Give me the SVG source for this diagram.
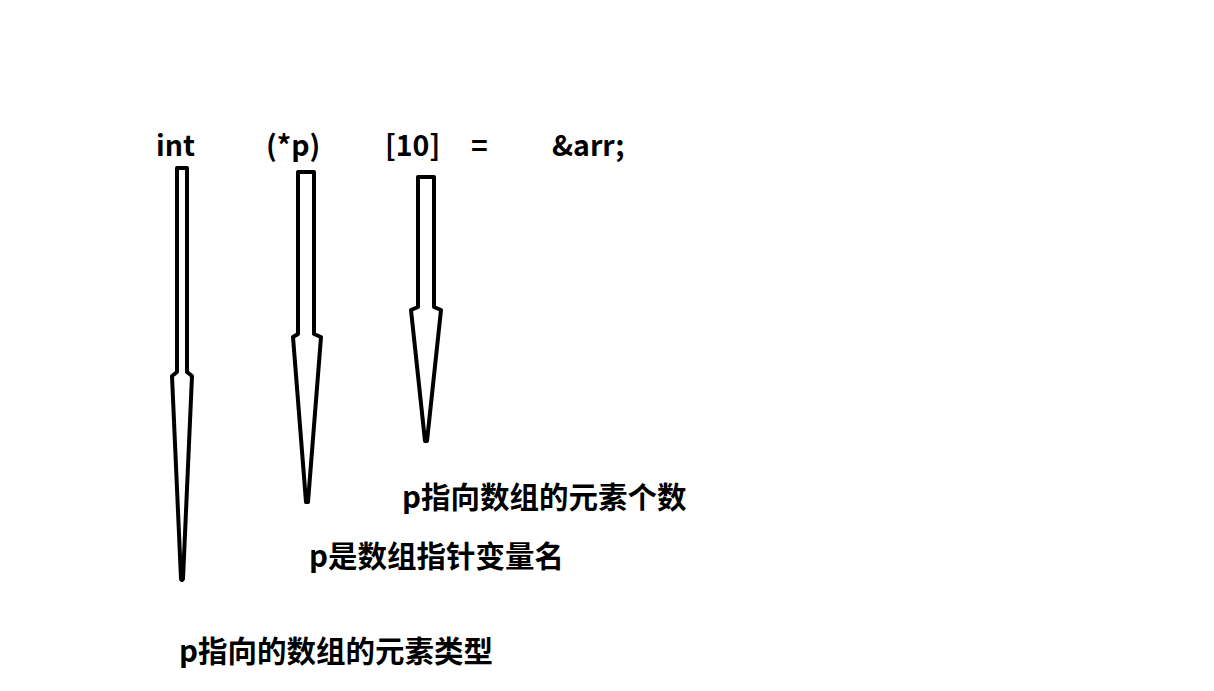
<svg xmlns="http://www.w3.org/2000/svg" width="1214" height="691" viewBox="0 0 1214 691">
<style>
.t{font-family:"Noto Sans CJK SC","Noto Sans",sans-serif;font-weight:bold;fill:#000}
.code{font-size:28.5px}
.lbl{font-size:29.5px}
.arr{fill:#fff;stroke:#000;stroke-width:4;stroke-linejoin:round}
</style>
<rect width="1214" height="691" fill="#fff"/>
<g id="code">
<text class="t code" x="156" y="156">int</text>
<text class="t code" x="266" y="156">(*p)</text>
<text class="t code" x="385" y="156">[10]</text>
<text class="t code" x="471" y="156">=</text>
<text class="t code" x="552" y="156">&amp;arr;</text>
</g>
<g id="connectors">
<path id="a1" class="arr" d="M177,168 H187 V372 L192,376 L183,579 L182,580 L181,579 L172,376 L177,372 Z"/>
<path id="a2" class="arr" d="M298,172 H314 V334 L321,337 L308,502 L306,502 L293,337 L298,334 Z"/>
<path id="a3" class="arr" d="M418,177 H434 V307 L441,310 L427,441 L425,441 L411,310 L418,307 Z"/>
</g>
<g id="label1"><text class="t lbl" x="402" y="508">p指向数组的元素个数</text></g>
<g id="label2"><text class="t lbl" x="309" y="567">p是数组指针变量名</text></g>
<g id="label3"><text class="t lbl" x="179" y="662">p指向的数组的元素类型</text></g>
</svg>
